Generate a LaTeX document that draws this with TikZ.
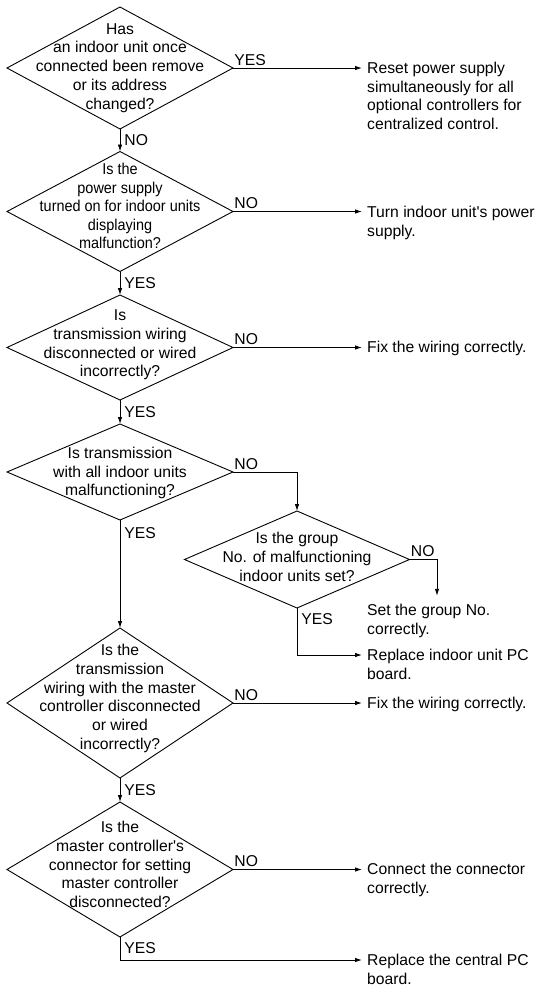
\documentclass[tikz,border=0pt]{standalone}
\usepackage{fontspec}
\setmainfont{Liberation Sans}
\newfontfamily\narrowfont{Liberation Sans}[FakeStretch=0.92]
\usetikzlibrary{shapes.geometric,arrows.meta,calc}
\begin{document}
\begin{tikzpicture}[x=1pt,y=-1pt,
  every node/.style={font=\fontsize{15.7}{18.8}\selectfont},
  dia/.style={draw, shape=diamond, inner sep=0pt, outer sep=0pt, minimum width=226pt, line width=0.9pt},
  qtext/.style={align=center, inner sep=0pt},
  ans/.style={align=left, anchor=north west, inner xsep=5pt, inner ysep=2pt},
  arr/.style={line width=0.9pt, -{Latex[length=7pt,width=4.5pt]}},
  lbr/.style={inner sep=1pt, anchor=base west, yshift=3pt},
  lbv/.style={inner sep=1pt, anchor=west, xshift=3pt},
  lbd/.style={inner sep=1pt, anchor=north west, xshift=3pt, yshift=-4pt},
]
\useasboundingbox (0,0) rectangle (541,986);

% diamonds
\node[dia, minimum height=122pt] (d1) at (120,68) {};
\node[dia, minimum height=120pt] (d2) at (120,211.5) {};
\node[dia, minimum height=105pt] (d3) at (120,347.5) {};
\node[dia, minimum height=96pt] (d4) at (120,472) {};
\node[dia, minimum width=225pt, minimum height=97pt] (d5) at (297,559.5) {};
\node[dia, minimum height=150pt] (d6) at (120,703) {};
\node[dia, minimum height=135pt] (d7) at (120,869.5) {};

% question texts
\node[qtext] (t1) at (120,68) {Has\\an indoor unit once\\connected been remove\\or its address\\changed?};
\node[qtext, font=\narrowfont\fontsize{15.7}{18.6}\selectfont] (t2) at (120,206) {Is the\\power supply\\turned on for indoor units\\displaying\\malfunction?};
\node[qtext] (t3) at (120,345) {Is\\transmission wiring\\disconnected or wired\\incorrectly?};
\node[qtext] (t4) at (120,473) {Is transmission\\with all indoor units\\malfunctioning?};
\node[qtext] (t5) at (297,557) {Is the group\\No. of malfunctioning\\indoor units set?};
\node[qtext] (t6) at (120,698.5) {Is the\\transmission\\wiring with the master\\controller disconnected\\or wired\\incorrectly?};
\node[qtext] (t7) at (120,864.5) {Is the\\master controller\textquotesingle s\\connector for setting\\master controller\\disconnected?};

% answers (top edge = first-line centre - 8.2)
\node[ans] (r1) at (362,59.8) {Reset power supply\\simultaneously for all\\optional controllers for\\centralized control.};
\node[ans] (r2) at (362,203.8) {Turn indoor unit\textquotesingle s power\\supply.};
\node[ans] (r3) at (362,339.3) {Fix the wiring correctly.};
\node[ans] (r5) at (362,601.8) {Set the group No.\\correctly.};
\node[ans] (r6) at (362,646.8) {Replace indoor unit PC\\board.};
\node[ans] (r7) at (362,694.8) {Fix the wiring correctly.};
\node[ans] (r8) at (362,861.3) {Connect the connector\\correctly.};
\node[ans] (r9) at (362,951.8) {Replace the central PC\\board.};

\coordinate (k5) at (437,559.5);

% connectors
\draw[arr] (d1.east) -- node[pos=0, lbr] {YES} (d1.east -| r1.west);
\draw[arr] (d1.south) -- node[midway, lbv] {NO} (d2.north);
\draw[arr] (d2.east) -- node[pos=0, lbr] {NO} (d2.east -| r2.west);
\draw[arr] (d2.south) -- node[midway, lbv] {YES} (d3.north);
\draw[arr] (d3.east) -- node[pos=0, lbr] {NO} (d3.east -| r3.west);
\draw[arr] (d3.south) -- node[midway, lbv] {YES} (d4.north);
\draw[arr] (d4.east) -- node[pos=0, lbr] {NO} (d4.east -| d5.north) -- (d5.north);
\draw[arr] (d4.south) -- node[pos=0, lbd, yshift=-2pt] {YES} (d6.north);
\draw[arr] (d5.east) -- node[pos=0, lbr] {NO} (k5) -- ($(k5 |- r5.north)+(0,-6)$);
\draw[arr] (d5.south) |- node[pos=0, lbd] {YES} ($(r6.north west)+(0,8.2)$);
\draw[arr] (d6.east) -- node[pos=0, lbr] {NO} (d6.east -| r7.west);
\draw[arr] (d6.south) -- node[midway, lbv] {YES} (d7.north);
\draw[arr] (d7.east) -- node[pos=0, lbr] {NO} (d7.east -| r8.west);
\draw[arr] (d7.south) |- node[pos=0, lbd] {YES} ($(r9.north west)+(0,8.2)$);
\end{tikzpicture}
\end{document}
